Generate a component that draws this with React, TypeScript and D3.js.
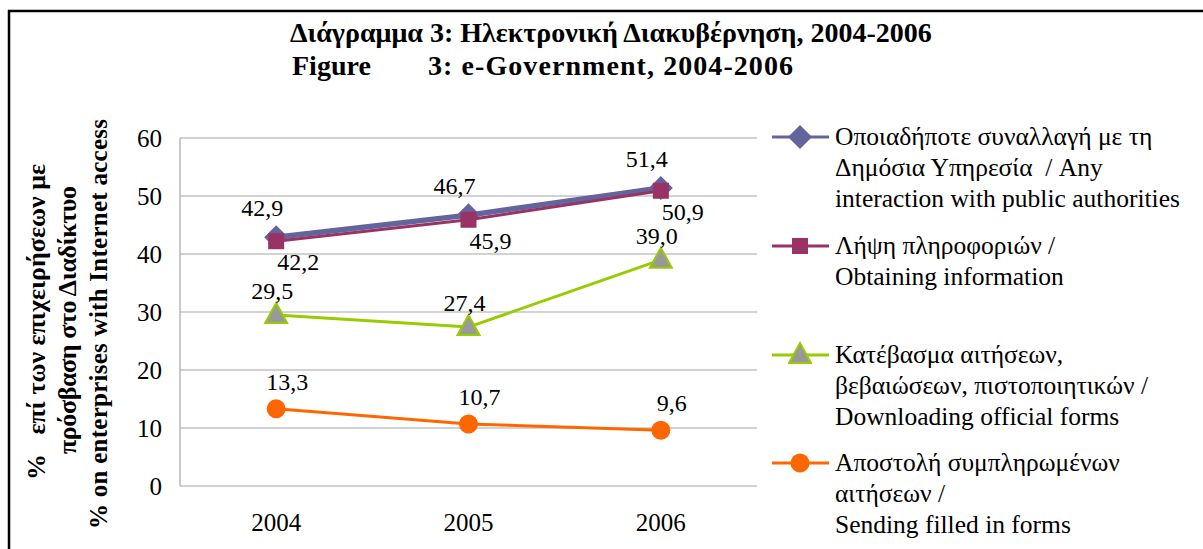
import React from 'react'
import * as d3 from 'd3'

// data
const years = ['2004', '2005', '2006']
const anyInteraction = [42.9, 46.7, 51.4]
const obtainingInfo = [42.2, 45.9, 50.9]
const downloadingForms = [29.5, 27.4, 39.0]
const sendingForms = [13.3, 10.7, 9.6]
const yTicks = [0, 10, 20, 30, 40, 50, 60]

const legendLabels = [
  ['Οποιαδήποτε συναλλαγή με τη', 'Δημόσια Υπηρεσία\u00A0\u00A0/ Any', 'interaction with public authorities'],
  ['Λήψη πληροφοριών /', 'Obtaining information'],
  ['Κατέβασμα αιτήσεων,', 'βεβαιώσεων, πιστοποιητικών /', 'Downloading official forms'],
  ['Αποστολή συμπληρωμένων', 'αιτήσεων /', 'Sending filled in forms'],
]

const W = 1203
const H = 549
const serif = { fontFamily: 'Liberation Serif, Times New Roman, serif', whiteSpace: 'pre' as const }

type Series = {
  values: number[]
  color: string
  width: number
  marker: 'diamond' | 'square' | 'triangle' | 'circle'
  fill: string
  labelDx: number
  labelDy: number
}

const series: Series[] = [
  { values: anyInteraction, color: '#64649C', width: 5.5, marker: 'diamond', fill: '#64649C', labelDx: -14, labelDy: -29 },
  { values: obtainingInfo, color: '#993366', width: 3, marker: 'square', fill: '#993366', labelDx: 22, labelDy: 21 },
  { values: downloadingForms, color: '#99CC00', width: 3, marker: 'triangle', fill: '#999999', labelDx: -4, labelDy: -24 },
  { values: sendingForms, color: '#FF6600', width: 3, marker: 'circle', fill: '#FF6600', labelDx: 11, labelDy: -27 },
]

const legendY = [137, 246, 355, 463]

function Marker({ kind, x, y, fill, stroke }: { kind: string; x: number; y: number; fill: string; stroke: string }) {
  if (kind === 'diamond') {
    const r = 12
    return <path d={`M${x},${y - r}L${x + r},${y}L${x},${y + r}L${x - r},${y}Z`} fill={fill} />
  }
  if (kind === 'square') {
    const s = 8
    return <rect x={x - s} y={y - s} width={s * 2} height={s * 2} fill={fill} />
  }
  if (kind === 'triangle') {
    return (
      <path d={`M${x},${y - 12}L${x + 11},${y + 8}L${x - 11},${y + 8}Z`} fill={fill} stroke={stroke} strokeWidth={2} />
    )
  }
  return <circle cx={x} cy={y} r={9.5} fill={fill} />
}

export default function App() {
  const plot = { left: 180, right: 757, top: 138, bottom: 486 }

  const x = d3.scaleBand<string>().domain(years).range([plot.left, plot.right])
  const y = d3.scaleLinear().domain([0, 60]).range([plot.bottom, plot.top])
  const cx = (yr: string) => (x(yr) as number) + x.bandwidth() / 2

  const line = d3
    .line<number>()
    .x((_, i) => cx(years[i]))
    .y((d) => y(d))

  const fmt = (v: number) => v.toFixed(1).replace('.', ',')

  return (
    <div style={{ position: 'absolute', left: 0, top: 0 }}>
      <svg width={W} height={H} style={{ display: 'block', background: '#fff', ...serif }}>
        <rect x={9} y={11} width={W + 10} height={H + 10} fill="none" stroke="#000" strokeWidth={2.5} />

        {/* title */}
        <g fontSize={28} fontWeight="bold" style={serif}>
          <text x={290} y={42}>Διάγραμμα 3: Ηλεκτρονική Διακυβέρνηση, 2004-2006</text>
          <text x={292} y={75}>Figure</text>
          <text x={428} y={75} textLength={365}>3: e-Government, 2004-2006</text>
        </g>

        {/* y axis title */}
        <g fontSize={26} fontWeight="bold" textAnchor="middle" style={serif}>
          <text transform="translate(45,322) rotate(-90)">{'%\u00A0\u00A0 επί των επιχειρήσεων με'}</text>
          <text transform="translate(76,320) rotate(-90)" textLength={268}>πρόσβαση στο Διαδίκτυο</text>
          <text transform="translate(107,324) rotate(-90)" fontSize={25} textLength={410}>
            % on enterprises with Internet access
          </text>
        </g>

        {/* grid */}
        {yTicks.map((t) => (
          <line key={t} x1={plot.left} x2={plot.right} y1={y(t)} y2={y(t)} stroke="#A6A6A6" strokeWidth={1.2} />
        ))}
        <line x1={plot.left} x2={plot.left} y1={plot.top} y2={plot.bottom} stroke="#A6A6A6" strokeWidth={1.2} />

        {/* ticks */}
        <g fontSize={25} textAnchor="end" style={serif}>
          {yTicks.map((t) => (
            <text key={t} x={162} y={y(t) + 9}>{t}</text>
          ))}
        </g>
        <g fontSize={25} textAnchor="middle" style={serif}>
          {years.map((yr) => (
            <text key={yr} x={cx(yr)} y={531}>{yr}</text>
          ))}
        </g>

        {/* series */}
        {series.map((s, i) => (
          <g key={i}>
            <path d={line(s.values) ?? ''} fill="none" stroke={s.color} strokeWidth={s.width} />
            {s.values.map((v, j) => (
              <Marker key={j} kind={s.marker} x={cx(years[j])} y={y(v)} fill={s.fill} stroke={s.color} />
            ))}
          </g>
        ))}

        {/* data labels */}
        <g fontSize={24} textAnchor="middle" style={serif}>
          {series.map((s, i) =>
            s.values.map((v, j) => (
              <text key={`${i}-${j}`} x={cx(years[j]) + s.labelDx} y={y(v) + s.labelDy + 8}>
                {fmt(v)}
              </text>
            ))
          )}
        </g>

        {/* legend */}
        {series.map((s, i) => (
          <g key={i}>
            <line x1={772} x2={829} y1={legendY[i]} y2={legendY[i]} stroke={s.color} strokeWidth={3} />
            <Marker kind={s.marker} x={800} y={legendY[i]} fill={s.fill} stroke={s.color} />
            {legendLabels[i].map((t, k) => (
              <text key={k} x={835} y={legendY[i] + 8 + k * 31} fontSize={25.5} style={serif}>
                {t}
              </text>
            ))}
          </g>
        ))}
      </svg>
    </div>
  )
}
